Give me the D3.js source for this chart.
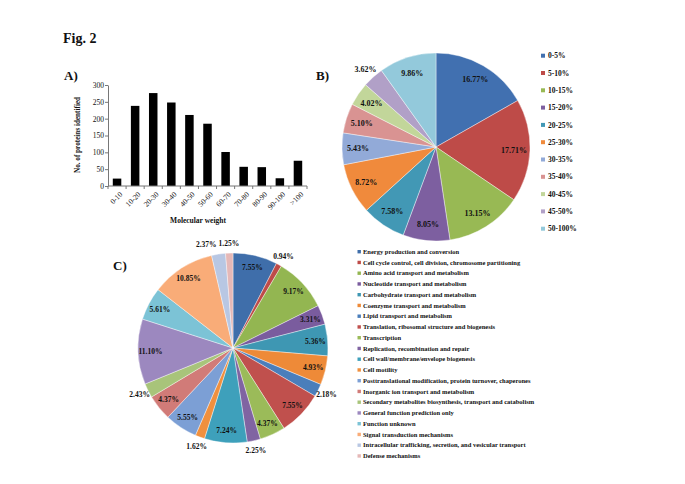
<!DOCTYPE html>
<html><head><meta charset="utf-8">
<script src="https://cdn.jsdelivr.net/npm/d3@7"></script>
<style>
body{margin:0;background:#fff}
text{font-family:"Liberation Serif","Times New Roman",serif;fill:#111}
</style>
</head><body>
<svg id="c" width="685" height="484"></svg>
<script>
// ---- data ----
const mwCategories = ["0-10","10-20","20-30","30-40","40-50","50-60","60-70","70-80","80-90","90-100",">100"];
const mwCounts = [22,238,276,248,211,185,101,57,56,23,75];
const mwTicks = [0,50,100,150,200,250,300];

const sizeCategories = ["0-5%","5-10%","10-15%","15-20%","20-25%","25-30%","30-35%","35-40%","40-45%","45-50%","50-100%"];
const sizeValues = [16.77,17.71,13.15,8.05,7.58,8.72,5.43,5.10,4.02,3.62,9.86];

const cogCategories = [
 "Energy production and conversion",
 "Cell cycle control, cell division, chromosome partitioning",
 "Amino acid transport and metabolism",
 "Nucleotide transport and metabolism",
 "Carbohydrate transport and metabolism",
 "Coenzyme transport and metabolism",
 "Lipid transport and metabolism",
 "Translation, ribosomal structure and biogenesis",
 "Transcription",
 "Replication, recombination and repair",
 "Cell wall/membrane/envelope biogenesis",
 "Cell motility",
 "Posttranslational modification, protein turnover, chaperones",
 "Inorganic ion transport and metabolism",
 "Secondary metabolites biosynthesis, transport and catabolism",
 "General function prediction only",
 "Function unknown",
 "Signal transduction mechanisms",
 "Intracellular trafficking, secretion, and vesicular transport",
 "Defense mechanisms"];
const cogValues = [7.55,0.94,9.17,3.31,5.36,4.93,2.18,7.55,4.37,2.25,7.24,1.62,5.55,4.37,2.43,11.10,5.61,10.85,2.37,1.25];

// ---- styles ----
const sizeColors = ["#4170b0","#be4b48","#98b954","#7d5fa0","#4298b5","#f08a3c","#92aad8","#d99392","#c2d69a","#b1a0c7","#93c9db"];
const cogColors = ["#3f6eaa","#be4b48","#93b651","#7a5c9e","#3e97b3","#ee8a38","#4a7ebb","#c0504d","#9bbb59","#8064a2","#3ea0bb","#f0903e",
                   "#7c9fd5","#d17b78","#a8c47a","#9c88bf","#7cc3d6","#f9ac78","#b8c7e3","#e5b8b7"];

const svg = d3.select("#c");

// title
svg.append("text").attr("x",63).attr("y",43).attr("font-size",14).attr("font-weight","bold").text("Fig. 2");

// ---- A) bar chart ----
const gA = svg.append("g");
gA.append("text").attr("x",64).attr("y",80).attr("font-size",13).attr("font-weight","bold").text("A)");
const x = d3.scaleBand().domain(mwCategories).range([108,307]).paddingInner(0.53).paddingOuter(0.265);
const y = d3.scaleLinear().domain([0,300]).range([186,85]);
gA.selectAll("rect").data(mwCounts).join("rect")
  .attr("x",(d,i)=>x(mwCategories[i])).attr("width",x.bandwidth())
  .attr("y",d=>y(d)).attr("height",d=>y(0)-y(d)).attr("fill","#000");
const yAxis = gA.append("g").attr("transform","translate(108,0)")
  .call(d3.axisLeft(y).tickValues(mwTicks).tickSize(3).tickSizeOuter(0));
yAxis.select(".domain").attr("stroke","#777");
yAxis.selectAll(".tick line").attr("stroke","#777");
yAxis.selectAll(".tick text").attr("font-size",7.5).attr("font-family","Liberation Serif").attr("fill","#111").attr("x",-4);
// x axis
const xAxisY = y(0);
gA.append("line").attr("x1",108).attr("x2",307).attr("y1",xAxisY).attr("y2",xAxisY).attr("stroke","#777");
const step = x.step();
gA.selectAll(".xt").data(d3.range(mwCategories.length+1)).join("line").attr("class","xt")
  .attr("x1",i=>x.range()[0]+i*step).attr("x2",i=>x.range()[0]+i*step)
  .attr("y1",xAxisY).attr("y2",xAxisY+3).attr("stroke","#777");
gA.selectAll(".xl").data(mwCategories).join("text").attr("class","xl")
  .attr("font-size",7.5).attr("text-anchor","end").attr("dy","0.35em")
  .attr("transform",d=>`translate(${x(d)+x.bandwidth()/2+4},${xAxisY+7}) rotate(-45)`)
  .text(d=>d);
gA.append("text").attr("x",198).attr("y",223).attr("text-anchor","middle").attr("font-size",7.5).attr("font-weight","bold").text("Molecular weight");
gA.append("text").attr("transform","translate(80,135) rotate(-90)").attr("text-anchor","middle").attr("font-size",7.2).attr("font-weight","bold").text("No. of proteins identified");

// ---- pie helper ----
function drawPie(g, values, colors, r, inFactor, outFactor, outThreshold, fontSize){
  const pie = d3.pie().sort(null).value(d=>d)(values);
  const arc = d3.arc().innerRadius(0).outerRadius(r);
  g.selectAll("path").data(pie).join("path").attr("d",arc)
    .attr("fill",(d,i)=>colors[i]).attr("stroke","#fff").attr("stroke-width",0.4);
  const inArc = d3.arc().innerRadius(r*inFactor).outerRadius(r*inFactor);
  const outArc = d3.arc().innerRadius(r*outFactor).outerRadius(r*outFactor);
  const labels = g.selectAll("text").data(pie).join("text")
    .attr("text-anchor","middle").attr("dy","0.35em")
    .attr("font-size",fontSize).attr("font-weight","bold")
    .text(d=>d.data.toFixed(2)+"%");
  // positions
  const pos = pie.map(d=>{
    const c = (d.data<outThreshold?outArc:inArc).centroid(d);
    return {x:c[0], y:c[1], out:d.data<outThreshold};
  });
  labels.each(function(d,i){ pos[i].w = this.getComputedTextLength(); });
  // resolve overlaps between consecutive outside labels: shift the earlier one sideways
  for(let i=pos.length-1;i>0;i--){
    const a = pos[i-1], b = pos[i];
    if(!a.out || !b.out) continue;
    if(Math.abs(a.y-b.y) < fontSize){
      const need = (a.w+b.w)/2 + 2;
      const dx = a.x-b.x;
      if(Math.abs(dx) < need){ a.x = b.x + Math.sign(dx||-1)*need; }
    }
  }
  labels.attr("transform",(d,i)=>`translate(${pos[i].x},${pos[i].y})`);
}

// ---- B) pie ----
svg.append("text").attr("x",316).attr("y",80).attr("font-size",13).attr("font-weight","bold").text("B)");
const gB = svg.append("g").attr("transform","translate(436,147)");
drawPie(gB, sizeValues, sizeColors, 94, 0.83, 1.12, 4, 8);
const legB = svg.append("g");
sizeCategories.forEach((c,i)=>{
  const yy = 55.7 + i*17.3;
  legB.append("rect").attr("x",541).attr("y",yy-2).attr("width",4).attr("height",4).attr("fill",sizeColors[i]);
  legB.append("text").attr("x",548).attr("y",yy).attr("dy","0.35em").attr("font-size",7.5).attr("font-weight","bold").text(c);
});

// ---- C) pie ----
svg.append("text").attr("x",113).attr("y",270).attr("font-size",13).attr("font-weight","bold").text("C)");
const gC = svg.append("g").attr("transform","translate(233,348)");
drawPie(gC, cogValues, cogColors, 95, 0.87, 1.1, 3, 7.5);
const legC = svg.append("g");
cogCategories.forEach((c,i)=>{
  const yy = 251.7 + i*10.75;
  legC.append("rect").attr("x",357.5).attr("y",yy-1.7).attr("width",3.4).attr("height",3.4).attr("fill",cogColors[i]);
  legC.append("text").attr("x",363).attr("y",yy).attr("dy","0.35em").attr("font-size",6.5).attr("font-weight","bold").text(c);
});
</script>
</body></html>
